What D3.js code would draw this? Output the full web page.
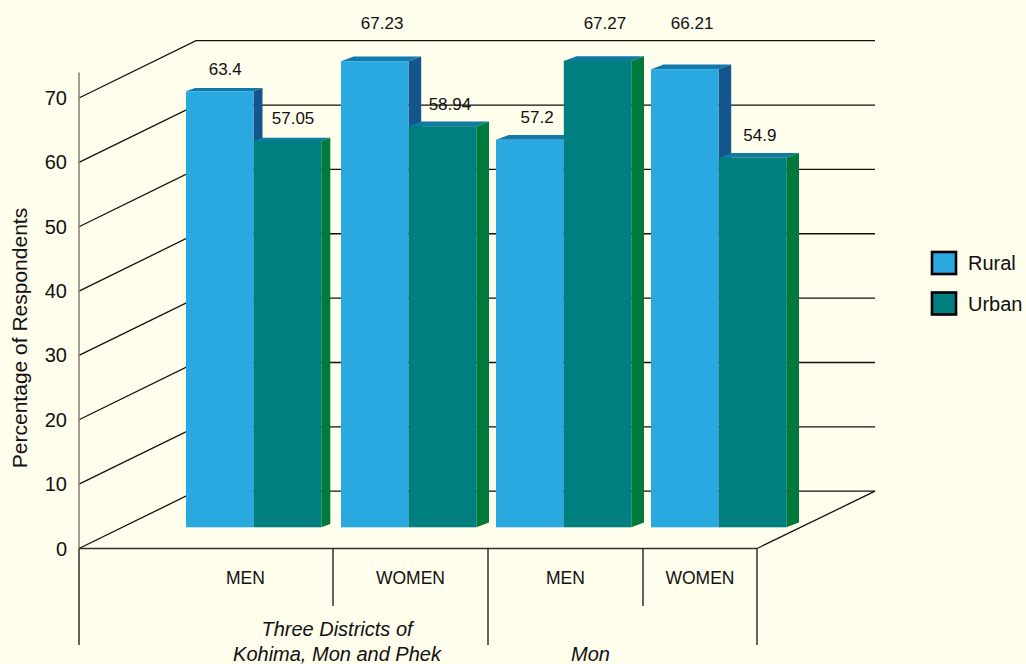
<!DOCTYPE html>
<html>
<head>
<meta charset="utf-8">
<script src="https://cdn.jsdelivr.net/npm/d3@7"></script>
<style>
  html, body { margin: 0; padding: 0; background: #FFFDEB; }
  svg { display: block; font-family: "Liberation Sans", Arial, Helvetica, sans-serif; }
</style>
</head>
<body>
<svg id="chart" width="1026" height="664"></svg>
<script>
// ---- data ----
const categories = ["MEN", "WOMEN", "MEN", "WOMEN"];
const groups = ["Three Districts of\nKohima, Mon and Phek", "Mon"];
const groupOf = [0, 0, 1, 1];
const seriesNames = ["Rural", "Urban"];
const rural = [63.4, 67.23, 57.2, 66.21];
const urban = [57.05, 58.94, 67.27, 54.9];
const yTicks = [0, 10, 20, 30, 40, 50, 60, 70];

// ---- layout ----
const W = 1026, H = 664;
const colors = {
  bg: "#FFFDEB",
  Rural: { front: "#29A9E0", top: "#1279AD", side: "#13558C" },
  Urban: { front: "#007F80", top: "#0F7BA0", side: "#007A3C" }
};
const floorFrontY = 548.5;           // front edge of the floor
const wallShift = [117, -57.3];      // offset from the front plane to the back wall
const axisX = 79;                    // left axis
const floorRight = 757;              // right end of the front floor edge
const wallRight = 875;               // right end of the back wall lines
const barBase = 527.3;               // bars stand on the middle of the floor

const svg = d3.select("#chart");
svg.append("rect").attr("width", W).attr("height", H).attr("fill", colors.bg);

// value axis along the front plane
const y = d3.scaleLinear().domain([0, 70]).range([floorFrontY, 98]);
// bar tops inside the box
const yBar = d3.scaleLinear().domain([0, 70]).range([588, 39.5]);
// categories along the floor
const x = d3.scaleBand().domain(d3.range(categories.length)).range([178, 798]).padding(0);

const g = svg.append("g");

// back wall grid: diagonal on the side wall then horizontal across the back
yTicks.forEach(t => {
  const y0 = y(t);
  const bx = axisX + wallShift[0], by = y0 + wallShift[1];
  g.append("path")
    .attr("d", `M${axisX},${y0}L${bx},${by}L${wallRight},${by}`)
    .attr("fill", "none").attr("stroke", "#111").attr("stroke-width", 1.3);
});

// floor: right diagonal edge
g.append("path")
  .attr("d", `M${floorRight},${floorFrontY}L${wallRight},${floorFrontY + wallShift[1]}`)
  .attr("fill", "none").attr("stroke", "#111").attr("stroke-width", 1.3);

// left axis line
g.append("line")
  .attr("x1", axisX).attr("x2", axisX).attr("y1", 72.5).attr("y2", floorFrontY)
  .attr("stroke", "#8C8478").attr("stroke-width", 1.6);

// tick labels
g.selectAll(".tick").data(yTicks).join("text")
  .attr("x", 67).attr("y", d => y(d))
  .attr("text-anchor", "end").attr("dominant-baseline", "central")
  .attr("font-size", 20).attr("fill", "#111")
  .text(d => d);

// axis title
g.append("text")
  .attr("transform", `translate(19,338) rotate(-90)`)
  .attr("text-anchor", "middle").attr("dominant-baseline", "central")
  .attr("font-size", 21).attr("fill", "#111")
  .text("Percentage of Respondents");

// ---- bars ----
const barW = 67.5, barStep = 67.8, barPad = 8;
const depthAt = px => 9 + 3.7 * Math.min(1, Math.max(0, (px - 260) / 80));

const bars = [];
categories.forEach((c, i) => {
  [rural[i], urban[i]].forEach((v, s) => {
    const bx = x(i) + barPad + s * barStep;
    const dx = depthAt(bx), dy = -0.37 * dx;
    bars.push({ v, s, bx, top: yBar(v), dx, dy, name: seriesNames[s] });
  });
});

const barG = g.append("g");
bars.forEach(b => {
  const c = colors[b.name];
  const x0 = b.bx, x1 = b.bx + barW, t = b.top, bt = barBase;
  // right side face
  barG.append("path")
    .attr("d", `M${x1},${t}L${x1 + b.dx},${t + b.dy}L${x1 + b.dx},${bt + b.dy}L${x1},${bt}Z`)
    .attr("fill", c.side);
  // top face
  barG.append("path")
    .attr("d", `M${x0},${t}L${x0 + b.dx},${t + b.dy}L${x1 + b.dx},${t + b.dy}L${x1},${t}Z`)
    .attr("fill", c.top);
  // front face
  barG.append("rect")
    .attr("x", x0).attr("y", t).attr("width", barW).attr("height", bt - t)
    .attr("fill", c.front);
});

// value labels; a label that would sit on the top rail goes above it
const railY = y(70) + wallShift[1];
barG.selectAll(".val").data(bars).join("text")
  .attr("x", b => b.bx + barW / 2 + b.dx / 2 + 1)
  .attr("y", b => {
    let ly = b.top - 22;
    if (Math.abs(ly - railY) < 13) ly = railY - 17;
    return ly;
  })
  .attr("text-anchor", "middle").attr("dominant-baseline", "central")
  .attr("font-size", 17).attr("fill", "#111")
  .text(b => b.v);

// ---- category axis below the floor ----
g.append("line")
  .attr("x1", axisX).attr("x2", floorRight).attr("y1", floorFrontY).attr("y2", floorFrontY)
  .attr("stroke", "#333").attr("stroke-width", 1.5);

const clip = v => Math.max(axisX, Math.min(floorRight, v));
const sepShort = 606, sepLong = 645;
// category boundaries
const bounds = [axisX];
for (let i = 1; i < categories.length; i++) bounds.push(x(i));
bounds.push(floorRight);
bounds.forEach((bx, k) => {
  const isGroupEdge = k === 0 || k === bounds.length - 1 || groupOf[k] !== groupOf[k - 1];
  g.append("line")
    .attr("x1", bx).attr("x2", bx).attr("y1", floorFrontY)
    .attr("y2", isGroupEdge ? sepLong : sepShort)
    .attr("stroke", "#111").attr("stroke-width", 1.3);
});

g.selectAll(".cat").data(categories).join("text")
  .attr("x", (d, i) => (clip(x(i)) + clip(x(i) + x.bandwidth())) / 2 - (i === 0 ? 10 : 0))
  .attr("y", 578)
  .attr("text-anchor", "middle").attr("dominant-baseline", "central")
  .attr("font-size", 17.5).attr("fill", "#111")
  .text(d => d);

groups.forEach((name, gi) => {
  const idx = d3.range(categories.length).filter(i => groupOf[i] === gi);
  const left = x(idx[0]), right = clip(x(idx[idx.length - 1]) + x.bandwidth());
  const lines = name.split("\n");
  const cx = (left + right) / 2 + (gi === 0 ? 4 : -32);
  lines.forEach((ln, li) => {
    g.append("text")
      .attr("x", cx)
      .attr("y", 653.5 - (lines.length - 1 - li) * 25)
      .attr("text-anchor", "middle").attr("dominant-baseline", "central")
      .attr("font-size", 20).attr("font-style", "italic").attr("fill", "#111")
      .text(ln);
  });
});

// ---- legend ----
const leg = svg.append("g").attr("transform", "translate(932,252)");
seriesNames.forEach((s, i) => {
  const row = leg.append("g").attr("transform", `translate(0,${i * 40.5})`);
  row.append("rect").attr("width", 24).attr("height", 22)
    .attr("fill", colors[s].front).attr("stroke", "#000").attr("stroke-width", 2.6);
  row.append("text").attr("x", 36).attr("y", 11)
    .attr("dominant-baseline", "central").attr("font-size", 20).attr("fill", "#111")
    .text(s);
});
</script>
</body>
</html>
